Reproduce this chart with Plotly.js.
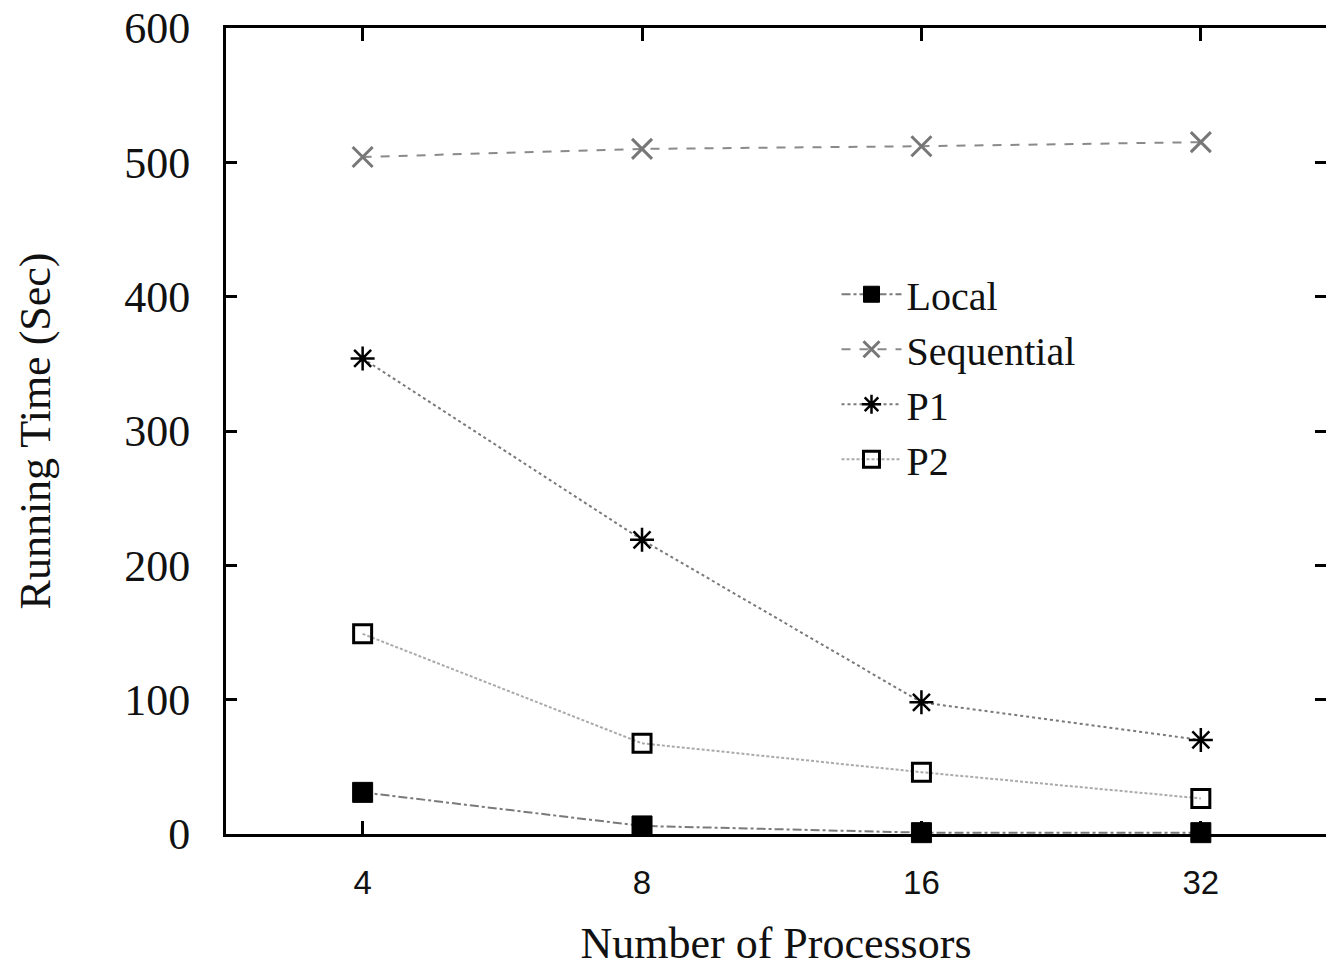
<!DOCTYPE html>
<html>
<head>
<meta charset="utf-8">
<script src="https://cdn.plot.ly/plotly-3.0.1.min.js"></script>
<style>html,body{margin:0;padding:0;background:#fff;overflow:hidden;}#chart{width:1326px;height:971px;}</style>
</head>
<body>
<div id="chart"></div>
<script>
const categories = ['4', '8', '16', '32'];
const localTimes = [31, 6, 1, 1];
const sequentialTimes = [504, 510, 512, 515];
const p1Times = [354, 219, 98, 70];
const p2Times = [149, 67.5, 46, 26.5];
const seriesNames = ['Local', 'Sequential', 'P1', 'P2'];
const xTitle = 'Number of Processors';
const yTitle = 'Running Time (Sec)';

const serif = 'Liberation Serif, Times New Roman, serif';
const sans = 'Liberation Sans, Arial, sans-serif';

const traces = [
  {x: categories, y: localTimes, name: seriesNames[0], mode: 'lines+markers', cliponaxis: false,
   line: {color: '#7a7a7a', width: 2, dash: 'dashdot'},
   marker: {symbol: 'square', size: 20, color: '#000', line: {color: '#000', width: 1}}},
  {x: categories, y: sequentialTimes, name: seriesNames[1], mode: 'lines+markers', cliponaxis: false,
   line: {color: '#8a8a8a', width: 2, dash: 'dash'},
   marker: {symbol: 'x-thin-open', size: 20, color: '#777', line: {color: '#777', width: 3}}},
  {x: categories, y: p1Times, name: seriesNames[2], mode: 'lines+markers', cliponaxis: false,
   line: {color: '#7a7a7a', width: 2, dash: 'dot'},
   marker: {symbol: 'asterisk-open', size: 20, color: '#000', line: {color: '#000', width: 2.5}}},
  {x: categories, y: p2Times, name: seriesNames[3], mode: 'lines+markers', cliponaxis: false,
   line: {color: '#aaaaaa', width: 2, dash: '3px,2px'},
   marker: {symbol: 'square-open', size: 18, color: '#000', line: {color: '#000', width: 3}}}
];

const layout = {
  width: 1326, height: 971,
  margin: {l: 226, r: 0, t: 28, b: 137},
  paper_bgcolor: '#fff', plot_bgcolor: '#fff',
  showlegend: true,
  legend: {
    x: 0.555, y: 0.71, xanchor: 'left', yanchor: 'top',
    font: {family: serif, size: 40, color: '#111'},
    bgcolor: 'rgba(0,0,0,0)', itemwidth: 60, tracegroupgap: 0
  },
  xaxis: {
    type: 'category', range: [-0.489, 3.448],
    showgrid: false, zeroline: false,
    showline: true, linecolor: '#000', linewidth: 3, mirror: 'allticks',
    ticks: 'inside', ticklen: 13, tickwidth: 3, tickcolor: '#000',
    tickfont: {family: sans, size: 33, color: '#111'},
    ticklabelstandoff: 17,
    title: {text: xTitle, font: {family: serif, size: 44, color: '#111'}, standoff: 28},
    fixedrange: true
  },
  yaxis: {
    range: [0, 600], tickvals: [0, 100, 200, 300, 400, 500, 600],
    showgrid: false, zeroline: false,
    showline: true, linecolor: '#000', linewidth: 3, mirror: 'allticks',
    ticks: 'inside', ticklen: 11, tickwidth: 3, tickcolor: '#000',
    tickfont: {family: serif, size: 44, color: '#111'},
    ticklabelstandoff: 24,
    title: {text: yTitle, font: {family: serif, size: 44, color: '#111'}, standoff: 60},
    fixedrange: true
  }
};

Plotly.newPlot('chart', traces, layout, {displayModeBar: false, staticPlot: true});
</script>
</body>
</html>
